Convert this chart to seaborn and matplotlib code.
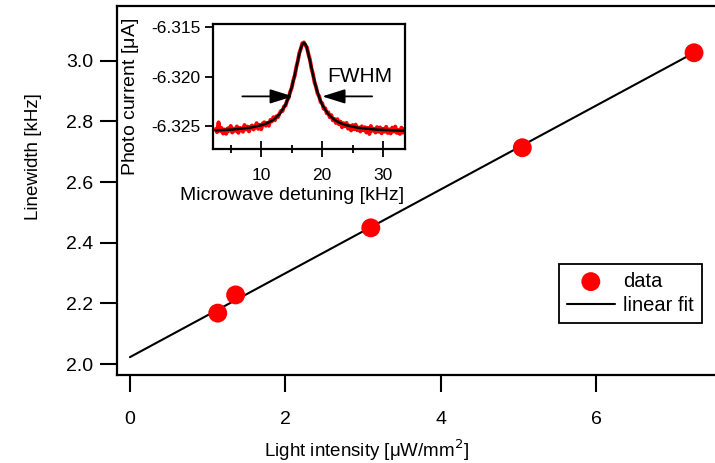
import numpy as np
import pandas as pd
import matplotlib
matplotlib.use("Agg")
import matplotlib.pyplot as plt
import seaborn as sns

# main plot: linewidth vs light intensity
intensity = [1.13, 1.36, 3.10, 5.05, 7.26]
linewidth = [2.168, 2.228, 2.449, 2.713, 3.026]
fit_x = [0.0, 7.26]
fit_y = [2.023, 3.026]

# inset: microwave detuning scan (red trace) and Lorentzian fit (black)
detuning = [2.50, 2.75, 3.00, 3.25, 3.50, 3.75, 4.00, 4.25, 4.50, 4.75,
            5.00, 5.25, 5.50, 5.75, 6.00, 6.25, 6.50, 6.75, 7.00, 7.25,
            7.50, 7.75, 8.00, 8.25, 8.50, 8.75, 9.00, 9.25, 9.50, 9.75,
            10.00, 10.25, 10.50, 10.75, 11.00, 11.25, 11.50, 11.75, 12.00, 12.25,
            12.50, 12.75, 13.00, 13.25, 13.50, 13.75, 14.00, 14.25, 14.50, 14.75,
            15.00, 15.25, 15.50, 15.75, 16.00, 16.25, 16.50, 16.75, 17.00, 17.25,
            17.50, 17.75, 18.00, 18.25, 18.50, 18.75, 19.00, 19.25, 19.50, 19.75,
            20.00, 20.25, 20.50, 20.75, 21.00, 21.25, 21.50, 21.75, 22.00, 22.25,
            22.50, 22.75, 23.00, 23.25, 23.50, 23.75, 24.00, 24.25, 24.50, 24.75,
            25.00, 25.25, 25.50, 25.75, 26.00, 26.25, 26.50, 26.75, 27.00, 27.25,
            27.50, 27.75, 28.00, 28.25, 28.50, 28.75, 29.00, 29.25, 29.50, 29.75,
            30.00, 30.25, 30.50, 30.75, 31.00, 31.25, 31.50, 31.75, 32.00, 32.25,
            32.50, 32.75, 33.00, 33.25, 33.50]
current = [-6.32531, -6.32561, -6.32462, -6.32549, -6.32519, -6.32575, -6.32534, -6.32578, -6.32523, -6.32547,
           -6.32498, -6.32565, -6.32526, -6.32547, -6.32503, -6.32568, -6.32518, -6.32524, -6.32557, -6.32489,
           -6.32534, -6.32504, -6.32554, -6.32509, -6.32493, -6.32534, -6.32512, -6.32470, -6.32528, -6.32487,
           -6.32532, -6.32473, -6.32461, -6.32496, -6.32466, -6.32497, -6.32438, -6.32452, -6.32410, -6.32440,
           -6.32400, -6.32409, -6.32373, -6.32346, -6.32348, -6.32301, -6.32291, -6.32239, -6.32215, -6.32155,
           -6.32115, -6.32041, -6.31991, -6.31907, -6.31844, -6.31763, -6.31719, -6.31664, -6.31655, -6.31682,
           -6.31706, -6.31776, -6.31831, -6.31919, -6.31976, -6.32059, -6.32104, -6.32173, -6.32197, -6.32257,
           -6.32268, -6.32325, -6.32320, -6.32371, -6.32360, -6.32411, -6.32389, -6.32442, -6.32426, -6.32468,
           -6.32430, -6.32481, -6.32454, -6.32512, -6.32470, -6.32502, -6.32468, -6.32526, -6.32494, -6.32544,
           -6.32489, -6.32532, -6.32485, -6.32541, -6.32514, -6.32554, -6.32502, -6.32542, -6.32511, -6.32565,
           -6.32518, -6.32580, -6.32499, -6.32546, -6.32526, -6.32565, -6.32510, -6.32557, -6.32513, -6.32573,
           -6.32527, -6.32556, -6.32507, -6.32569, -6.32533, -6.32574, -6.32515, -6.32555, -6.32504, -6.32569,
           -6.32539, -6.32579, -6.32515, -6.32566, -6.32530]
lor_x = [2.5, 5, 8, 10, 11, 12, 13, 14, 14.5, 15, 15.5, 16, 16.5, 16.75, 17,
         17.25, 17.5, 18, 18.5, 19, 19.5, 20, 21, 22, 23, 24, 26, 29, 33.5]
lor_y = [-6.32543, -6.32536, -6.32518, -6.32492, -6.32470, -6.32436, -6.32380,
         -6.32283, -6.32209, -6.32110, -6.31984, -6.31840, -6.31713, -6.31674,
         -6.31660, -6.31674, -6.31713, -6.31840, -6.31984, -6.32110, -6.32209,
         -6.32283, -6.32380, -6.32436, -6.32470, -6.32492, -6.32518, -6.32536,
         -6.32547]

sns.set_style("ticks")
plt.rcParams['font.family'] = ['Liberation Sans', 'DejaVu Sans']
plt.rcParams['axes.linewidth'] = 1.6
for key in ['text.color', 'axes.labelcolor', 'xtick.color', 'ytick.color', 'axes.edgecolor']:
    plt.rcParams[key] = 'black'

fig = plt.figure(figsize=(7.15, 4.63), dpi=100)
ax = fig.add_axes([0.1636, 0.19, 0.8364, 0.797])

sns.lineplot(x=fit_x, y=fit_y, color='black', linewidth=1.5, ax=ax, label='linear fit')
sns.scatterplot(x=intensity, y=linewidth, color='#ff0000', s=185, edgecolor='none',
                ax=ax, label='data', zorder=3)

ax.set_xlim(-0.167, 7.53)
ax.set_ylim(1.964, 3.18)
ax.set_xticks([0, 2, 4, 6])
ax.set_yticks([2.0, 2.2, 2.4, 2.6, 2.8, 3.0])
ax.set_yticklabels(['2.0', '2.2', '2.4', '2.6', '2.8', '3.0'])
ax.spines['right'].set_visible(False)
ax.tick_params(axis='y', direction='out', length=12, width=1.5, pad=5, labelsize=14)
ax.tick_params(axis='x', direction='out', length=12, width=1.5, pad=14, labelsize=14)
ax.set_xlabel('Light intensity [$\\mathregular{\\mu}$W/mm$^2$]', fontsize=13.5)
ax.set_ylabel('Linewidth [kHz]', fontsize=13.5)
ax.xaxis.set_label_coords(0.418, -0.168)
ax.yaxis.set_label_coords(-0.125, 0.593)

handles, labels = ax.get_legend_handles_labels()
order = [labels.index('data'), labels.index('linear fit')]
leg = ax.legend([handles[i] for i in order], [labels[i] for i in order],
                loc='lower right', bbox_to_anchor=(0.978, 0.141), fontsize=14.5,
                frameon=True, fancybox=False, framealpha=1, edgecolor='black',
                handlelength=2.4, handletextpad=0.4, borderaxespad=0,
                labelspacing=0.25, borderpad=0.4)
leg.get_frame().set_linewidth(1.3)

# inset
ins = fig.add_axes([0.298, 0.678, 0.2685, 0.270])
sns.lineplot(x=detuning, y=current, color='#ff0000', linewidth=2.8, ax=ins,
             sort=False, estimator=None)
sns.lineplot(x=lor_x, y=lor_y, color='black', linewidth=1.8, ax=ins,
             sort=False, estimator=None)
ins.set_xlim(2.1, 33.6)
ins.set_ylim(-6.32732, -6.3147)
ins.set_xticks([10, 20, 30])
ins.set_xticks([5, 15, 25], minor=True)
ins.set_yticks([-6.325, -6.320, -6.315])
ins.set_yticklabels(['-6.325', '-6.320', '-6.315'])
ins.tick_params(axis='x', which='major', direction='inout', length=11, width=1.3,
                pad=8, labelsize=12.5)
ins.tick_params(axis='x', which='minor', direction='inout', length=6, width=1.3)
ins.tick_params(axis='y', direction='out', length=6, width=1.3, pad=3, labelsize=12.5)
ins.set_xlabel('Microwave detuning [kHz]', fontsize=14)
ins.set_ylabel('Photo current [$\\mathregular{\\mu}$A]', fontsize=14)
ins.xaxis.set_label_coords(0.41, -0.305)
ins.yaxis.set_label_coords(-0.375, 0.416)

arrow_style = dict(arrowstyle='-|>,head_length=0.7,head_width=0.22', color='black',
                   lw=1.3, mutation_scale=20, shrinkA=0, shrinkB=0)
ins.annotate('', xy=(15.2, -6.3220), xytext=(6.9, -6.3220), arrowprops=arrow_style)
ins.annotate('', xy=(20.0, -6.3220), xytext=(28.2, -6.3220), arrowprops=arrow_style)
ins.text(20.8, -6.3200, 'FWHM', fontsize=15, va='center', ha='left')

fig.savefig('out.png', dpi=100)
